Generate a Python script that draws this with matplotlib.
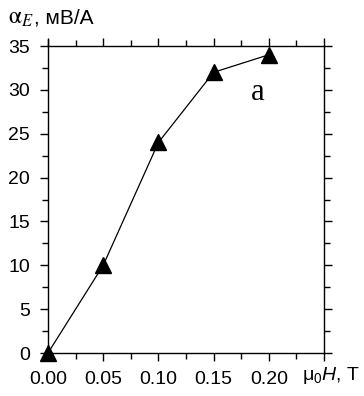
import numpy as np
import matplotlib.pyplot as plt
from matplotlib.ticker import MultipleLocator, FixedLocator, FixedFormatter

plt.rcParams['font.family'] = ['Liberation Sans', 'DejaVu Sans']
plt.rcParams['mathtext.fontset'] = 'custom'
plt.rcParams['mathtext.rm'] = 'Liberation Sans'
plt.rcParams['mathtext.it'] = 'Liberation Sans:italic'

# data
field = [0.00, 0.05, 0.10, 0.15, 0.20]
alpha_e = [0, 10, 24, 32, 34]
x_labels = ["0.00", "0.05", "0.10", "0.15", "0.20", ""]

fig = plt.figure(figsize=(3.64, 3.96), dpi=100)
ax = fig.add_axes([48 / 364, 1 - 353 / 396, 276 / 364, 307 / 396])

ax.plot(field, alpha_e, color='black', lw=0.9, marker='^', markersize=11,
        markerfacecolor='black', markeredgecolor='black', clip_on=False, zorder=3)

ax.set_xlim(0, 0.25)
ax.set_ylim(0, 35)

ax.xaxis.set_major_locator(FixedLocator(np.arange(0, 0.26, 0.05)))
ax.xaxis.set_major_formatter(FixedFormatter(x_labels))
ax.xaxis.set_minor_locator(MultipleLocator(0.025))
ax.yaxis.set_major_locator(MultipleLocator(5))
ax.yaxis.set_minor_locator(MultipleLocator(2.5))

ax.tick_params(which='both', direction='out', top=True, right=True,
               width=1.0, labelsize=14, colors='black')
ax.tick_params(which='major', length=6, pad=7)
ax.tick_params(which='minor', length=4)

for sp in ax.spines.values():
    sp.set_linewidth(1.0)
ax.spines['left'].set_bounds(0, 35.7)

# panel letter
fig.text(258 / 364, 1 - 92 / 396, "a", family='Liberation Serif', fontsize=22,
         ha='center', va='center')

# axis titles
fig.text(8 / 364, 1 - 18 / 396, r"$\mathrm{\alpha}_{E}$", fontsize=17,
         math_fontfamily='stix', ha='left', va='center')
fig.text(34 / 364, 1 - 18 / 396, ", мВ/А", fontsize=15,
         ha='left', va='center')
fig.text(302 / 364, 1 - 375 / 396, r"μ$_0$$H$, T", fontsize=14,
         ha='left', va='center')

fig.savefig("out.png", dpi=100)
